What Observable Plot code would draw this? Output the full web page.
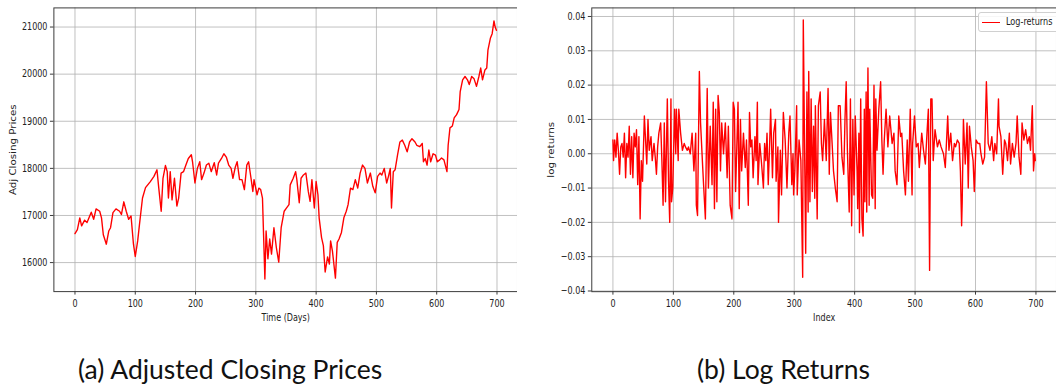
<!DOCTYPE html>
<html><head><meta charset="utf-8">
<script src="https://cdn.jsdelivr.net/npm/d3@7"></script>
<script src="https://cdn.jsdelivr.net/npm/@observablehq/plot@0.6"></script>
<style>
html,body{margin:0;padding:0;background:#fff;width:1056px;height:389px;overflow:hidden;position:relative;}
#a{position:absolute;left:0;top:0;width:517px;height:335px;overflow:hidden;}
#b{position:absolute;left:528px;top:0;width:528px;height:335px;overflow:hidden;}
.cap{position:absolute;font-family:Lato,sans-serif;font-size:26.5px;line-height:31.8px;color:#111;white-space:nowrap;}
#legend{position:absolute;left:978px;top:12px;width:90px;height:18px;border:1px solid #d0d0d0;border-radius:3px;background:rgba(255,255,255,0.85);font-family:"DejaVu Sans";font-size:10.4px;color:#222;}
#legend .sw{position:absolute;left:3px;top:8.5px;width:18px;height:0;border-top:1.6px solid red;}
#legend .tx{position:absolute;left:27px;top:2px;transform:scaleX(0.78);transform-origin:0 50%;white-space:nowrap;}
</style></head>
<body>
<div id="a"></div>
<div id="b"></div>
<div id="legend"><div class="sw"></div><div class="tx">Log-returns</div></div>
<div class="cap" style="left:78px;top:354px;">(a) Adjusted Closing Prices</div>
<div class="cap" style="left:697px;top:354px;">(b) Log Returns</div>
<script>
const dayTicks = [0,100,200,300,400,500,600,700];
const priceTicks = [16000,17000,18000,19000,20000,21000];
const retTicks = [-0.04,-0.03,-0.02,-0.01,0,0.01,0.02,0.03,0.04];

const priceDays = [
 0,4,8,11,16,20,27,31,35,41, 44,47,52,56,59,63,68,74,77,81,
 85,89,93,97,100,104,107,112,117,125, 131,136,139,143,146,150,153,155,158,161,
 165,169,172,176,180,184,188,193,195,199, 203,207,210,214,218,222,226,231,235,238,
 243,247,251,255,259,262,266,269,273,277, 281,285,288,292,295,297,302,305,
 308,311,315,317,320,323,326,330,334,338, 342,347,351,355,357,362,366,368,372,375,
 379,383,387,390,393,397,400,403,405,409, 412,415,419,422,424,427,432,435,438,442,
 446,450,453,457,461,465,469,473,477,481, 485,490,494,498,502,506,509,513,517,520,
 523,525,528,531,535,539,543,547,551,555, 559,564,567,572,576,578,581,584,587,590,
 594,598,601,605,608,612,617,619,622,626, 629,633,637,639,643,647,651,654,658,662,
 666,670,673,676,680,683,685,689,692,695, 697,699
];
const priceValues = [
 16615,16700,16950,16780,16900,16850,17070,16920,17140,17090, 16950,16590,16390,16670,16740,17060,17140,17090,17020,17290,
 17090,16920,16990,16390,16130,16460,16810,17370,17590,17720, 17830,17970,17580,17090,17790,18060,17930,17370,17930,17330,
 17790,17200,17370,17900,17930,18070,18210,18290,18140,17690, 18000,18140,17760,17900,18070,18110,17930,18120,17860,18110,
 18210,18310,18240,18070,18000,17790,18030,18140,17760,17760, 17550,18070,18140,17790,17510,17760,17440,17580,
 17550,17370,15650,16670,16080,16500,16180,16740,16320,16010, 16740,17090,17160,17230,17650,17790,17930,17760,17270,17790,
 17860,17900,17510,17300,17760,17160,17720,17440,16950,16530, 16360,15800,16120,15970,16460,16250,15670,16430,16500,16640,
 16950,17090,17230,17580,17550,17760,17580,17900,18070,18000, 17690,17900,17620,17480,17830,17900,17860,18000,17690,17830,
 18000,17160,17930,17970,18280,18560,18600,18490,18350,18560, 18630,18560,18490,18460,18530,18140,18210,18070,18390,18140,
 18310,18280,18140,18180,18220,18180,17930,18490,18860,18900, 19070,19140,19250,19630,19880,19950,19880,19780,19950,19900,
 19740,19950,20130,19880,20090,20130,20510,20760,20860,21130, 21000,20930
];

const retDays = [
 0,1,3,5,7,9,11,13,15,17, 19,21,23,25,27,29,31,33,35,37,
 39,41,43,45,47,49,52,54,56,58, 60,63,65,68,70,72,74,76,79,81,
 83,85,87,90,92,94,96,97,99,102, 104,105,108,109,112,115,118,120,123,125,
 128,131,134,137,138,140,143,145,148,150, 153,156,158,161,164,166,168,170,172,174,
 176,178,180,183,186,189,191,194,197,199, 201,203,205,207,209,211,213,216,219,221,
 224,226,228,230,232,235,237,239,240,243, 246,249,251,253,255,257,259,261,264,266,
 269,270,273,274,277,279,282,285,288,291, 293,296,298,299,301,304,305,308,311,314,
 315,317,319,321,323,324,326,328,330,332, 334,335,338,340,343,345,347,350,353,356,
 358,360,363,365,368,371,373,376,379,382, 384,386,388,391,393,395,397,399,401,404,
 405,407,408,410,412,414,416,417,419,420, 422,424,425,428,430,432,434,435,437,440,
 443,445,447,449,452,455,458,462,465,467, 470,473,476,478,481,484,487,489,492,495,
 496,499,502,505,507,511,514,517,520,522, 524,526,528,530,533,537,540,543,547,550,
 554,556,559,562,565,567,570,573,575,577, 578,580,583,586,588,590,593,596,598,601,
 604,607,609,612,615,618,619,621,624,627, 630,632,635,638,639,642,645,648,650,653,
 656,658,661,664,667,669,672,675,677,680, 683,686,689,691,694,696,698,699
];
const retValues = [
 0.004,-0.002,0.004,-0.001,0.006,0.001,-0.006,0.002,0.003,-0.001, 0.006,-0.007,0.003,-0.001,0.008,-0.006,0.005,-0.007,0.006,0.002,
 0.007,-0.009,0.005,-0.019,-0.002,-0.008,0.011,0.004,-0.003,0.010, 0.001,0.005,-0.002,0.003,-0.001,-0.006,0.002,0.006,0.009,-0.002,
 -0.015,0.009,-0.014,0.016,-0.008,-0.020,0.016,-0.014,-0.010,0.013, 0.000,0.013,-0.002,0.013,0.006,0.001,0.003,0.002,0.001,0.002,
 0.000,0.006,-0.005,0.006,-0.015,-0.018,0.024,0.009,-0.002,-0.009, -0.019,0.019,-0.010,0.008,-0.009,0.015,-0.016,0.013,-0.014,0.017,
 0.012,-0.005,0.009,0.000,0.009,-0.007,0.008,-0.015,-0.019,0.015, 0.013,-0.011,0.002,0.015,-0.016,0.010,-0.005,0.006,-0.004,0.004,
 -0.015,0.012,0.002,0.004,-0.007,0.005,-0.002,0.015,-0.009,0.003, -0.003,-0.010,0.003,-0.002,0.006,-0.009,0.001,0.013,-0.007,0.006,
 0.010,-0.008,0.002,-0.020,0.001,-0.012,0.012,0.004,-0.010,0.006, 0.011,-0.009,0.000,-0.012,-0.005,0.014,-0.012,0.004,-0.002,-0.036,
 0.039,0.004,-0.029,0.018,-0.017,0.024,-0.014,0.016,-0.011,0.008, -0.013,0.014,-0.019,0.014,0.018,0.003,-0.002,0.010,-0.002,0.019,
 -0.006,0.012,0.002,-0.005,-0.010,-0.014,0.014,0.014,-0.001,-0.006, 0.010,0.021,0.001,-0.017,0.016,-0.021,0.010,-0.012,0.011,-0.005,
 -0.016,0.006,-0.023,0.016,-0.019,-0.024,0.013,-0.014,0.018,-0.017, 0.025,-0.015,0.013,-0.012,-0.013,0.020,-0.016,0.016,0.001,0.013,
 0.021,0.004,-0.006,0.004,0.013,0.002,0.011,0.003,0.006,-0.005, -0.009,0.011,0.005,0.006,-0.005,-0.012,0.004,-0.008,0.013,-0.012,
 0.003,0.011,0.002,0.003,-0.004,0.006,0.001,-0.003,0.007,0.013, -0.034,0.016,0.016,-0.002,0.007,0.002,0.004,0.002,0.000,-0.004,
 0.011,0.001,0.006,-0.002,0.003,0.002,0.004,0.003,-0.005,-0.021, -0.014,0.010,-0.003,0.009,-0.010,0.008,0.002,-0.002,-0.011,0.004,
 0.003,0.003,0.000,-0.003,-0.001,0.021,0.015,0.003,0.001,0.005, -0.002,0.003,0.000,0.016,0.008,0.005,-0.006,0.004,0.003,-0.002,
 0.006,-0.003,0.003,-0.001,0.003,0.011,-0.001,-0.006,0.009,0.004, 0.007,0.003,0.005,0.001,0.014,-0.005,0.000,-0.002
];

const priceData = priceDays.map((d, i) => ({day: d, value: priceValues[i]}));
const retData = retDays.map((d, i) => ({day: d, value: retValues[i]}));

const gridStyle = {stroke: "#b0b0b0", strokeOpacity: 1, strokeWidth: 0.8};
const style = {fontFamily: "DejaVu Sans", fontSize: "10.4px", color: "#222", background: "transparent", overflow: "visible"};

function chart({data, width, marginLeft, yDomain, yTicks, yFormat, xLabel, yLabel}) {
  return Plot.plot({
    width, height: 330,
    marginLeft, marginRight: 0, marginTop: 7.5, marginBottom: 35.5,
    style,
    x: {domain: [-35, 734]},
    y: {domain: yDomain},
    marks: [
      Plot.gridX(dayTicks, gridStyle),
      Plot.gridY(yTicks, gridStyle),
      Plot.line(data, {x: "day", y: "value", stroke: "red", strokeWidth: 1.4}),
      Plot.frame({stroke: "#3a3a3a", strokeWidth: 1}),
      Plot.axisX(dayTicks, {tickSize: 3.5, tickPadding: 5, label: null, stroke: "#3a3a3a", fill: "#222"}),
      Plot.axisY(yTicks, {tickSize: 3.5, tickPadding: 3, label: null, tickFormat: yFormat, stroke: "#3a3a3a", fill: "#222"}),
      Plot.text([xLabel], {frameAnchor: "bottom", dy: 26.5, lineAnchor: "middle", textAnchor: "middle", fill: "#222"}),
      Plot.text([yLabel], {frameAnchor: "left", dx: -41, rotate: -90, lineAnchor: "middle", textAnchor: "middle", fill: "#222"})
    ]
  });
}

// the reference's text is horizontally compressed: squeeze every glyph around its own anchor
function squeeze(svg, k) {
  svg.querySelectorAll("text").forEach(t => {
    const tr = t.getAttribute("transform") || "";
    const rotated = /rotate\(\s*-?90/.test(tr);
    const s = rotated ? `scale(1,${k})` : `scale(${k},1)`;
    const xa = parseFloat(t.getAttribute("x"));
    const x = Number.isFinite(xa) && !rotated ? xa : 0;
    t.setAttribute("transform", `${tr} translate(${x},0) ${s} translate(${-x},0)`.trim());
  });
  return svg;
}

document.getElementById("a").append(squeeze(chart({
  data: priceData, width: 523, marginLeft: 54,
  yDomain: [15384, 21406], yTicks: priceTicks, yFormat: d => String(d),
  xLabel: "Time (Days)", yLabel: "Adj Closing Prices"
}), 0.78));
document.getElementById("b").append(squeeze(chart({
  data: retData, width: 534, marginLeft: 64,
  yDomain: [-0.0402, 0.0425], yTicks: retTicks, yFormat: d3.format(".2f"),
  xLabel: "Index", yLabel: "log returns"
}), 0.78));
</script>
</body></html>
